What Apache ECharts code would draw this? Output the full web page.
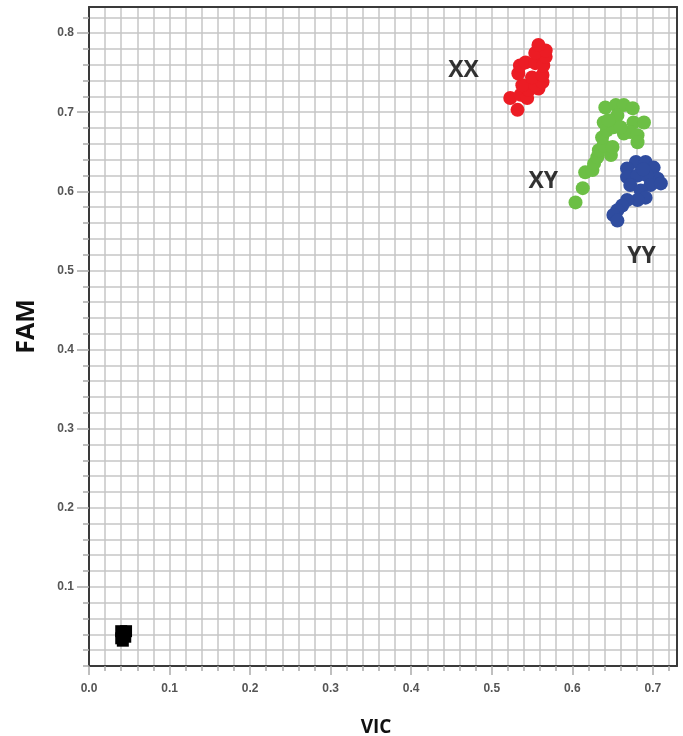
<!DOCTYPE html>
<html>
<head>
<meta charset="utf-8">
<script src="https://cdn.jsdelivr.net/npm/echarts@6/dist/echarts.min.js"></script>
<style>html,body{margin:0;padding:0;background:#fff}#c{width:683px;height:736px}</style>
</head>
<body>
<div id="c"></div>
<script>
// ---- data (VIC, FAM) ----
var xxPoints = [
  [0.532,0.703],[0.523,0.718],[0.536,0.722],[0.544,0.718],[0.546,0.728],[0.558,0.730],
  [0.538,0.734],[0.554,0.734],[0.563,0.738],[0.550,0.744],[0.563,0.747],[0.533,0.749],
  [0.535,0.759],[0.542,0.763],[0.554,0.762],[0.564,0.759],[0.567,0.770],[0.554,0.775],
  [0.567,0.778],[0.558,0.785]
];
var xyPoints = [
  [0.604,0.586],[0.613,0.604],[0.616,0.624],[0.625,0.627],[0.627,0.635],[0.631,0.643],
  [0.633,0.652],[0.648,0.646],[0.639,0.658],[0.650,0.656],[0.637,0.668],[0.643,0.677],
  [0.639,0.687],[0.641,0.706],[0.654,0.709],[0.664,0.709],[0.675,0.705],[0.656,0.696],
  [0.651,0.681],[0.676,0.687],[0.689,0.687],[0.672,0.675],[0.681,0.671],[0.681,0.662],
  [0.664,0.673],[0.660,0.681],[0.645,0.690]
];
var yyPoints = [
  [0.679,0.637],[0.691,0.637],[0.701,0.630],[0.668,0.629],[0.706,0.616],[0.668,0.618],
  [0.681,0.620],[0.693,0.620],[0.672,0.608],[0.697,0.608],[0.685,0.601],[0.691,0.592],
  [0.681,0.589],[0.668,0.589],[0.662,0.582],[0.656,0.576],[0.651,0.570],[0.656,0.563],
  [0.710,0.610],[0.688,0.628]
];
var controlPoints = [
  [0.040,0.044],[0.046,0.044],[0.040,0.035],[0.045,0.037],[0.042,0.032],[0.041,0.039]
];
var clusterLabels = [
  [0.465,0.753,'XX'],[0.564,0.612,'XY'],[0.686,0.518,'YY']
];
var xTickLabels = [0,0.1,0.2,0.3,0.4,0.5,0.6,0.7];
var yTickLabels = [0.1,0.2,0.3,0.4,0.5,0.6,0.7,0.8];
var xMax = 0.73, yMax = 0.833, minorStep = 0.02;

function minorTicks(maxV){
  var a=[]; for (var i=0;i*minorStep<=maxV+1e-9;i++){ a.push(+(i*minorStep).toFixed(2)); } return a;
}

var chart = echarts.init(document.getElementById('c'), null, {renderer:'canvas'});
var labelFont = {color:'#555', fontFamily:'Liberation Sans, Arial, sans-serif', fontWeight:'bold', fontSize:12};
var frameLine = {show:true, onZero:false, lineStyle:{color:'#3a3a3a', width:2}};
var option = {
  backgroundColor:'#fff',
  animation:false,
  grid:{left:89, right:6, top:7, bottom:70, show:false, containLabel:false, outerBoundsMode:'none'},
  xAxis:[
    {type:'value', min:0, max:xMax, interval:minorStep,
     axisLine:frameLine,
     axisTick:{show:true, length:5, customValues:minorTicks(0.72), lineStyle:{color:'#aaa', width:1.5}},
     axisLabel:{show:false},
     splitLine:{show:true, lineStyle:{color:'#c6c6c6', width:1.5}},
     name:'VIC', nameLocation:'middle', nameGap:52,
     nameTextStyle:{fontFamily:'Open Sans, sans-serif', fontWeight:'bold', fontSize:19, color:'#111', padding:[0,14,0,0]}
    },
    {type:'value', min:0, max:xMax, position:'bottom',
     axisLine:{show:false},
     axisTick:{show:true, length:9, customValues:xTickLabels, lineStyle:{color:'#aaa', width:1.5}},
     axisLabel:Object.assign({show:true, margin:17, customValues:xTickLabels, formatter:function(v){return v.toFixed(1);}}, labelFont),
     splitLine:{show:false}
    },
    {type:'value', min:0, max:xMax, position:'top',
     axisLine:frameLine, axisTick:{show:false}, axisLabel:{show:false}, splitLine:{show:false}
    }
  ],
  yAxis:[
    {type:'value', min:0, max:yMax, interval:minorStep,
     axisLine:frameLine,
     axisTick:{show:true, length:6, customValues:minorTicks(0.82), lineStyle:{color:'#aaa', width:1.5}},
     axisLabel:{show:false},
     splitLine:{show:true, lineStyle:{color:'#c6c6c6', width:1.5}},
     name:'FAM', nameLocation:'middle', nameGap:50, nameRotate:90,
     nameTextStyle:{fontFamily:'Open Sans, sans-serif', fontWeight:'bold', fontSize:25, color:'#111', padding:[0,0,0,20]}
    },
    {type:'value', min:0, max:yMax, position:'left',
     axisLine:{show:false},
     axisTick:{show:true, length:12, customValues:yTickLabels, lineStyle:{color:'#aaa', width:1.5}},
     axisLabel:Object.assign({show:true, margin:15, customValues:yTickLabels, formatter:function(v){return v.toFixed(1);}}, labelFont),
     splitLine:{show:false}
    },
    {type:'value', min:0, max:yMax, position:'right',
     axisLine:frameLine, axisTick:{show:false}, axisLabel:{show:false}, splitLine:{show:false}
    }
  ],
  series:[
    {type:'scatter', name:'XX', data:xxPoints, symbol:'circle', symbolSize:14, itemStyle:{color:'#ec1c24', opacity:1}},
    {type:'scatter', name:'XY', data:xyPoints, symbol:'circle', symbolSize:14, itemStyle:{color:'#6cbf45', opacity:1}},
    {type:'scatter', name:'YY', data:yyPoints, symbol:'circle', symbolSize:14, itemStyle:{color:'#2f4c9f', opacity:1}},
    {type:'scatter', name:'NTC', data:controlPoints, symbol:'rect', symbolSize:12, itemStyle:{color:'#000', opacity:1}},
    {type:'scatter', name:'labels', data:clusterLabels, symbolSize:1, itemStyle:{color:'rgba(0,0,0,0)'},
     label:{show:true, position:'inside', formatter:function(p){return p.data[2];},
            fontFamily:'Open Sans, sans-serif', fontWeight:'bold', fontSize:23, color:'#000',
            textBorderWidth:0, textBorderColor:'transparent', textShadowBlur:0}}
  ]
};
chart.setOption(option);
</script>
</body>
</html>
